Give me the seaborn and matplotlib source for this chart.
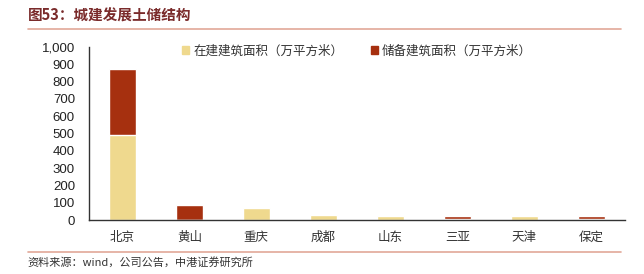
import pandas as pd
import numpy as np
import seaborn as sns
import matplotlib.pyplot as plt
from matplotlib.patches import Patch
from matplotlib.lines import Line2D

cities = ['北京', '黄山', '重庆', '成都', '山东', '三亚', '天津', '保定']
under_construction = [492, 0, 68, 31, 25, 8, 22, 8]
land_reserve = [380, 85, 0, 0, 0, 14, 0, 14]
yticks = [0, 100, 200, 300, 400, 500, 600, 700, 800, 900, 1000]

yellow = '#EFD98E'
red = '#A6300F'

sns.set_style('white')
plt.rcParams['font.family'] = ['Noto Sans CJK SC', 'DejaVu Sans']

df = pd.DataFrame({'city': cities, 'build': under_construction, 'reserve': land_reserve})
df['total'] = df['build'] + df['reserve']

fig = plt.figure(figsize=(6.44, 2.74), dpi=100)
ax = fig.add_axes([0.138, 0.197, 0.832, 0.631])

# stacked look: totals in red, then the lower part in yellow on top
sns.barplot(data=df, x='city', y='total', color=red, width=0.4, saturation=1, ax=ax)
sns.barplot(data=df, x='city', y='build', color=yellow, width=0.4, saturation=1, ax=ax)

ax.set_ylim(0, 1000)
ax.set_xlim(-0.5, len(cities) - 0.5)
ax.set_yticks(yticks)
ax.set_yticklabels([f'{v:,}' for v in yticks], fontsize=9.5, family=['Liberation Sans', 'DejaVu Sans'], color='#222222')
ax.set_xticks(range(len(cities)))
ax.set_xticklabels(cities, fontsize=9, color='#333333')
ax.set_xticks(np.arange(-0.5, len(cities), 1), minor=True)
ax.tick_params(axis='x', which='major', length=0, pad=8)
ax.tick_params(axis='x', which='minor', length=4, direction='in', color='#333333')
ax.tick_params(axis='y', length=4, direction='in', color='#333333', pad=10)
ax.set_xlabel('')
ax.set_ylabel('')
for s in ['top', 'right']:
    ax.spines[s].set_visible(False)
for s in ['left', 'bottom']:
    ax.spines[s].set_color('#333333')
    ax.spines[s].set_linewidth(1)

handles = [Patch(color=yellow, label='在建建筑面积（万平方米）'),
           Patch(color=red, label='储备建筑面积（万平方米）')]
ax.legend(handles=handles, loc='upper center', bbox_to_anchor=(0.50, 1.08), ncol=2,
          frameon=False, fontsize=9, handlelength=0.6, handleheight=0.6,
          handletextpad=0.3, columnspacing=2.2, labelcolor='#333333')

# header and footer
fig.text(0.043, 0.925, '图53：城建发展土储结构', fontsize=10.5, fontweight='bold', color='#7A2B2B')
fig.add_artist(Line2D([0.043, 0.965], [0.895, 0.895], color='#E2A898', lw=1.2))
fig.add_artist(Line2D([0.043, 0.965], [0.08, 0.08], color='#E2A898', lw=1.2))
fig.text(0.043, 0.03, '资料来源：wind，公司公告，中港证券研究所', fontsize=8, style='italic', color='#333333')

fig.savefig('out.png', dpi=100)
